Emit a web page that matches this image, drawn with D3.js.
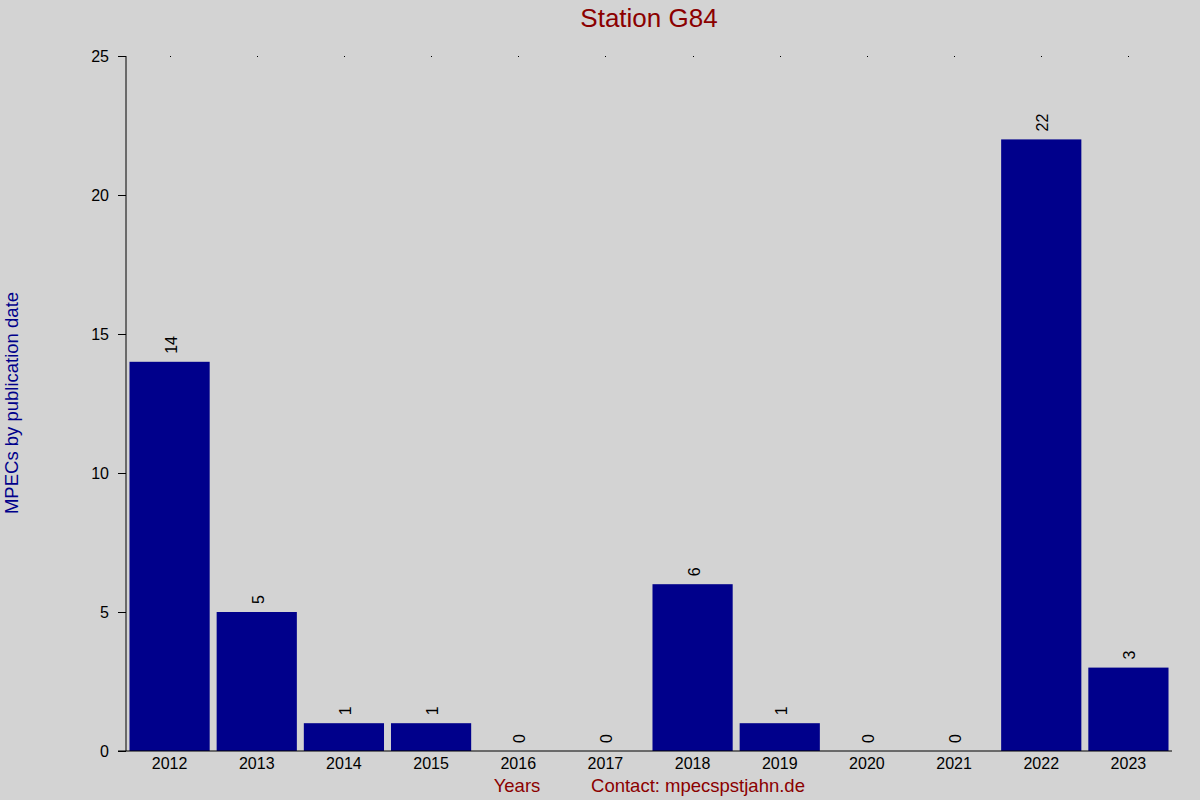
<!DOCTYPE html>
<html>
<head>
<meta charset="utf-8">
<script src="https://cdn.jsdelivr.net/npm/d3@7"></script>
<style>
  body { margin: 0; background: #d3d3d3; }
  svg { display: block; font-family: "Liberation Sans", Arial, sans-serif; }
</style>
</head>
<body>
<svg id="chart" width="1200" height="800"></svg>
<script>
const years = ['2012', '2013', '2014', '2015', '2016', '2017', '2018', '2019', '2020', '2021', '2022', '2023'];
const mpecs = [14, 5, 1, 1, 0, 0, 6, 1, 0, 0, 22, 3];
const yTicks = [0, 5, 10, 15, 20, 25];

const svg = d3.select('#chart');
const plotLeft = 126, plotRight = 1172, plotTop = 56, plotBottom = 751;
const fontFam = '"Liberation Sans", Arial, sans-serif';

svg.append('rect')
  .attr('width', 1200)
  .attr('height', 800)
  .attr('fill', '#d3d3d3');

const x = d3.scaleBand()
  .domain(years)
  .range([plotLeft, plotRight])
  .paddingInner(0.08)
  .paddingOuter(0.04);

const y = d3.scaleLinear()
  .domain([0, 25])
  .range([plotBottom, plotTop]);

// bars
svg.append('g')
  .selectAll('rect')
  .data(years)
  .enter()
  .append('rect')
  .attr('x', d => x(d))
  .attr('y', (d, i) => y(mpecs[i]))
  .attr('width', x.bandwidth())
  .attr('height', (d, i) => plotBottom - y(mpecs[i]))
  .attr('fill', '#00008b');

// value labels, rotated
svg.append('g')
  .selectAll('text')
  .data(years)
  .enter()
  .append('text')
  .attr('transform', (d, i) => `translate(${x(d) + x.bandwidth() / 2 + 7},${y(mpecs[i]) - 8}) rotate(-90)`)
  .attr('text-anchor', 'start')
  .attr('font-size', 16)
  .attr('fill', '#000')
  .text((d, i) => mpecs[i]);

// y axis
const yAxis = svg.append('g')
  .attr('transform', `translate(${plotLeft},0)`)
  .call(d3.axisLeft(y).tickValues(yTicks).tickSize(8).tickPadding(9));
yAxis.select('.domain').attr('d', `M0,${plotTop}V${plotBottom}`);
yAxis.selectAll('text').attr('font-size', 16).attr('fill', '#000')
  .attr('font-family', fontFam);

// x axis
const xAxis = svg.append('g')
  .attr('transform', `translate(0,${plotBottom})`)
  .call(d3.axisBottom(x).tickSize(0).tickPadding(7));
xAxis.select('.domain').attr('d', `M${plotLeft - 8},0H${plotRight}`);
xAxis.selectAll('text').attr('font-size', 16).attr('fill', '#000')
  .attr('font-family', fontFam);

// tiny top marks at band centres
svg.append('g')
  .selectAll('rect')
  .data(years)
  .enter()
  .append('rect')
  .attr('x', d => Math.round(x(d) + x.bandwidth() / 2))
  .attr('y', plotTop)
  .attr('width', 1)
  .attr('height', 1)
  .attr('fill', '#000');

// titles
svg.append('text')
  .attr('x', 649)
  .attr('y', 27)
  .attr('text-anchor', 'middle')
  .attr('font-size', 26)
  .attr('fill', '#8b0000')
  .text('Station G84');

svg.append('text')
  .attr('transform', 'translate(18,403) rotate(-90)')
  .attr('text-anchor', 'middle')
  .attr('font-size', 18.5)
  .attr('fill', '#00008b')
  .text('MPECs by publication date');

svg.append('text')
  .attr('x', 517)
  .attr('y', 792)
  .attr('text-anchor', 'middle')
  .attr('font-size', 18.5)
  .attr('fill', '#8b0000')
  .text('Years');

svg.append('text')
  .attr('x', 698)
  .attr('y', 792)
  .attr('text-anchor', 'middle')
  .attr('font-size', 18.5)
  .attr('fill', '#8b0000')
  .text('Contact: mpecspstjahn.de');
</script>
</body>
</html>
